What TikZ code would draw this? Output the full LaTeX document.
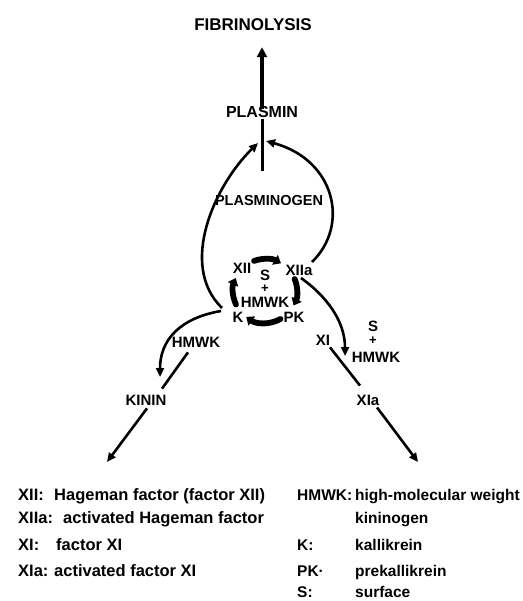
\documentclass[tikz,border=0pt]{standalone}
\usepackage{fontspec}
\setmainfont{Liberation Sans}
\usetikzlibrary{arrows.meta}
\begin{document}
\begin{tikzpicture}[x=1pt,y=-1pt,
  lab/.style={font=\fontsize{16}{17}\selectfont\bfseries, inner sep=1pt},
  small/.style={font=\fontsize{15}{16}\selectfont\bfseries, inner sep=0pt},
  plus/.style={font=\fontsize{13}{13}\selectfont\bfseries, inner sep=0pt},
  conn/.style={line width=2.6pt},
  arr/.style={conn, -{Triangle[length=9pt,width=8pt]}},
  cyc/.style={line width=5.8pt, line cap=round, -{Triangle[length=7pt,width=11pt]}},
  leg/.style={font=\fontsize{16.5}{17}\selectfont\bfseries, inner sep=1pt, anchor=base west},
  legr/.style={font=\fontsize{15.5}{17}\selectfont\bfseries, inner sep=1pt, anchor=base west}]
\useasboundingbox (0,0) rectangle (522,601);
% diagram labels
\node[lab, font=\fontsize{17}{18}\selectfont\bfseries] (fib) at (253,25) {FIBRINOLYSIS};
\node[lab] (plasmin) at (262,112) {PLASMIN};
\node[lab, font=\fontsize{14.5}{16}\selectfont\bfseries] (plg) at (269,201) {PLASMINOGEN};
\node[small] (xii) at (242,268) {XII};
\node[small] (xiia) at (299,270) {XIIa};
\node[small] (k) at (238,317) {K};
\node[small] (pk) at (294,317) {PK};
\node[small] (ctrS) at (265,275) {S};
\node[plus] (ctrP) at (265,288.5) {+};
\node[small] (ctrH) at (265,302.5) {HMWK};
\node[small] (hmwkL) at (196,342) {HMWK};
\node[small] (kinin) at (146,400) {KININ};
\node[small] (xi) at (323,340) {XI};
\node[small] (shS) at (373,326) {S};
\node[plus] (shP) at (373,340.5) {+};
\node[small] (shH) at (376,357) {HMWK};
\node[small] (xia) at (368,400) {XIa};
% coordinates
\coordinate (pj) at (262,171);
\coordinate (pl) at (258,143);
\coordinate (pr) at (266,141);
\coordinate (kout) at (222,308);
\coordinate (kout2) at (221,311);
\coordinate (hmtip) at (160,377);
\coordinate (xiiab) at (301,278);
\coordinate (xiiat) at (312,262);
\coordinate (xitip) at (345,356);
\coordinate (kinend) at (107,462);
\coordinate (xiaend) at (418,462);
% connectors
\draw[arr, line width=3.2pt, -{Triangle[length=10pt,width=10pt]}, shorten <=-4pt, shorten >=15pt] (plasmin.north) -- (plasmin.north |- fib.south);
\draw[conn, line width=3pt] (plasmin.south) -- (pj);
\draw[arr] (kout) .. controls (178,265) and (215,185) .. (pl);
\draw[arr] (xiiat) .. controls (350,225) and (335,160) .. (pr);
\draw[arr] (kout2) .. controls (180,318) and (160,340) .. (hmtip);
\draw[arr] (xiiab) .. controls (325,295) and (345,320) .. (xitip);
\draw[conn] ([xshift=-8pt,yshift=-5pt]hmwkL.south) -- ([xshift=16pt,yshift=6pt]kinin.north);
\draw[arr] ([xshift=1pt,yshift=-3pt]kinin.south) -- (kinend);
\draw[conn] ([xshift=7pt,yshift=-2pt]xi.south) -- ([xshift=-8pt,yshift=9pt]xia.north);
\draw[arr] ([xshift=9pt,yshift=-2pt]xia.south) -- (xiaend);
% cycle
\draw[cyc] (265,291) ++(-110:32) arc[start angle=-110, end angle=-60, radius=32];
\draw[cyc] (265,291) ++(-22:32) arc[start angle=-22, end angle=27, radius=32];
\draw[cyc] (265,291) ++(61:32) arc[start angle=61, end angle=126, radius=32];
\draw[cyc] (265,291) ++(155:32) arc[start angle=155, end angle=204, radius=32];
% legend
\node[leg] (l1a) at (17,500) {XII:};
\node[leg] (l1b) at (53,500) {Hageman factor (factor XII)};
\node[leg] (l2a) at (17,523) {XIIa:};
\node[leg] (l2b) at (62,523) {activated Hageman factor};
\node[leg] (l3a) at (17,550) {XI:};
\node[leg] (l3b) at (55,550) {factor XI};
\node[leg] (l4a) at (17,576) {XIa:};
\node[leg] (l4b) at (53,576) {activated factor XI};
\node[legr] (r1a) at (296,500) {HMWK:};
\node[legr] (r1b) at (354,500) {high-molecular weight};
\node[legr] (r2b) at (354,523) {kininogen};
\node[legr] (r3a) at (296,550) {K:};
\node[legr] (r3b) at (354,550) {kallikrein};
\node[legr] (r4a) at (296,576) {PK·};
\node[legr] (r4b) at (354,576) {prekallikrein};
\node[legr] (r5a) at (296,597) {S:};
\node[legr] (r5b) at (354,597) {surface};
\end{tikzpicture}
\end{document}
